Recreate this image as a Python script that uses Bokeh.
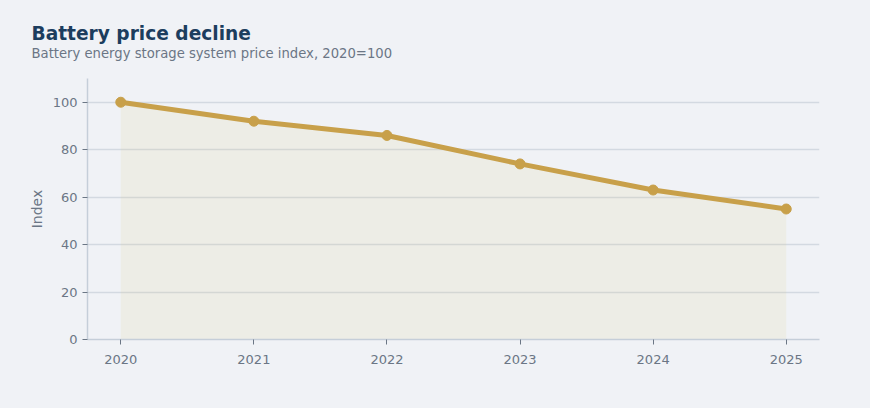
from bokeh.plotting import figure
from bokeh.models import Title, Range1d, FixedTicker
from bokeh.embed import file_html
from bokeh.resources import INLINE

years = [2020, 2021, 2022, 2023, 2024, 2025]
index_values = [100, 92, 86, 74, 63, 55]
y_ticks = [0, 20, 40, 60, 80, 100]

BG = "#f0f2f6"
GOLD = "#c8a04a"
FONT = "DejaVu Sans"

p = figure(width=854, height=392, output_backend="svg", toolbar_location=None,
           x_range=Range1d(2019.75, 2025.25), y_range=Range1d(0, 110),
           background_fill_color=BG, border_fill_color=BG,
           min_border_left=87, min_border_right=35, min_border_bottom=53,
           min_border_top=78)
p.outline_line_color = None
p.title.visible = False

sub = Title(text="Battery energy storage system price index, 2020=100",
            text_font=FONT, text_font_size="13.2px", text_font_style="normal",
            text_color="#6b7685", offset=-56, standoff=35, text_line_height=0.6)
p.add_layout(sub, "above")
main = Title(text="Battery price decline", text_font=FONT, text_font_size="18.6px",
             text_font_style="bold", text_color="#1c3d5e", offset=-56, standoff=-35)
p.add_layout(main, "above")

p.varea(x=years, y1=[0] * len(years), y2=index_values, fill_color="#dcd18b", fill_alpha=0.15)
p.line(years, index_values, line_color=GOLD, line_width=5)
p.scatter(years, index_values, size=10, fill_color=GOLD, line_color=GOLD)

p.xaxis.ticker = FixedTicker(ticks=years)
p.yaxis.ticker = FixedTicker(ticks=y_ticks)
p.xgrid.grid_line_color = None
p.ygrid.grid_line_color = "#d3d9e1"
p.ygrid.grid_line_width = 1.5
for ax in (p.xaxis, p.yaxis):
    ax.axis_line_color = "#c5ced9"
    ax.axis_line_width = 1.5
    ax.major_tick_line_color = "#6b7685"
    ax.major_tick_out = 5
    ax.major_tick_in = 0
    ax.minor_tick_line_color = None
    ax.major_label_text_font = FONT
    ax.major_label_text_font_size = "13px"
    ax.major_label_text_color = "#6b7685"
p.yaxis.axis_label = "Index"
p.yaxis.axis_label_text_font = FONT
p.yaxis.axis_label_text_font_size = "14px"
p.yaxis.axis_label_text_font_style = "normal"
p.yaxis.axis_label_text_color = "#6b7685"
p.xaxis.major_label_standoff = 10

html = file_html(p, INLINE)
html = html.replace("<head>", "<head><style>body{background:#f0f2f6;}</style>", 1)
open("out.html", "w").write(html)
